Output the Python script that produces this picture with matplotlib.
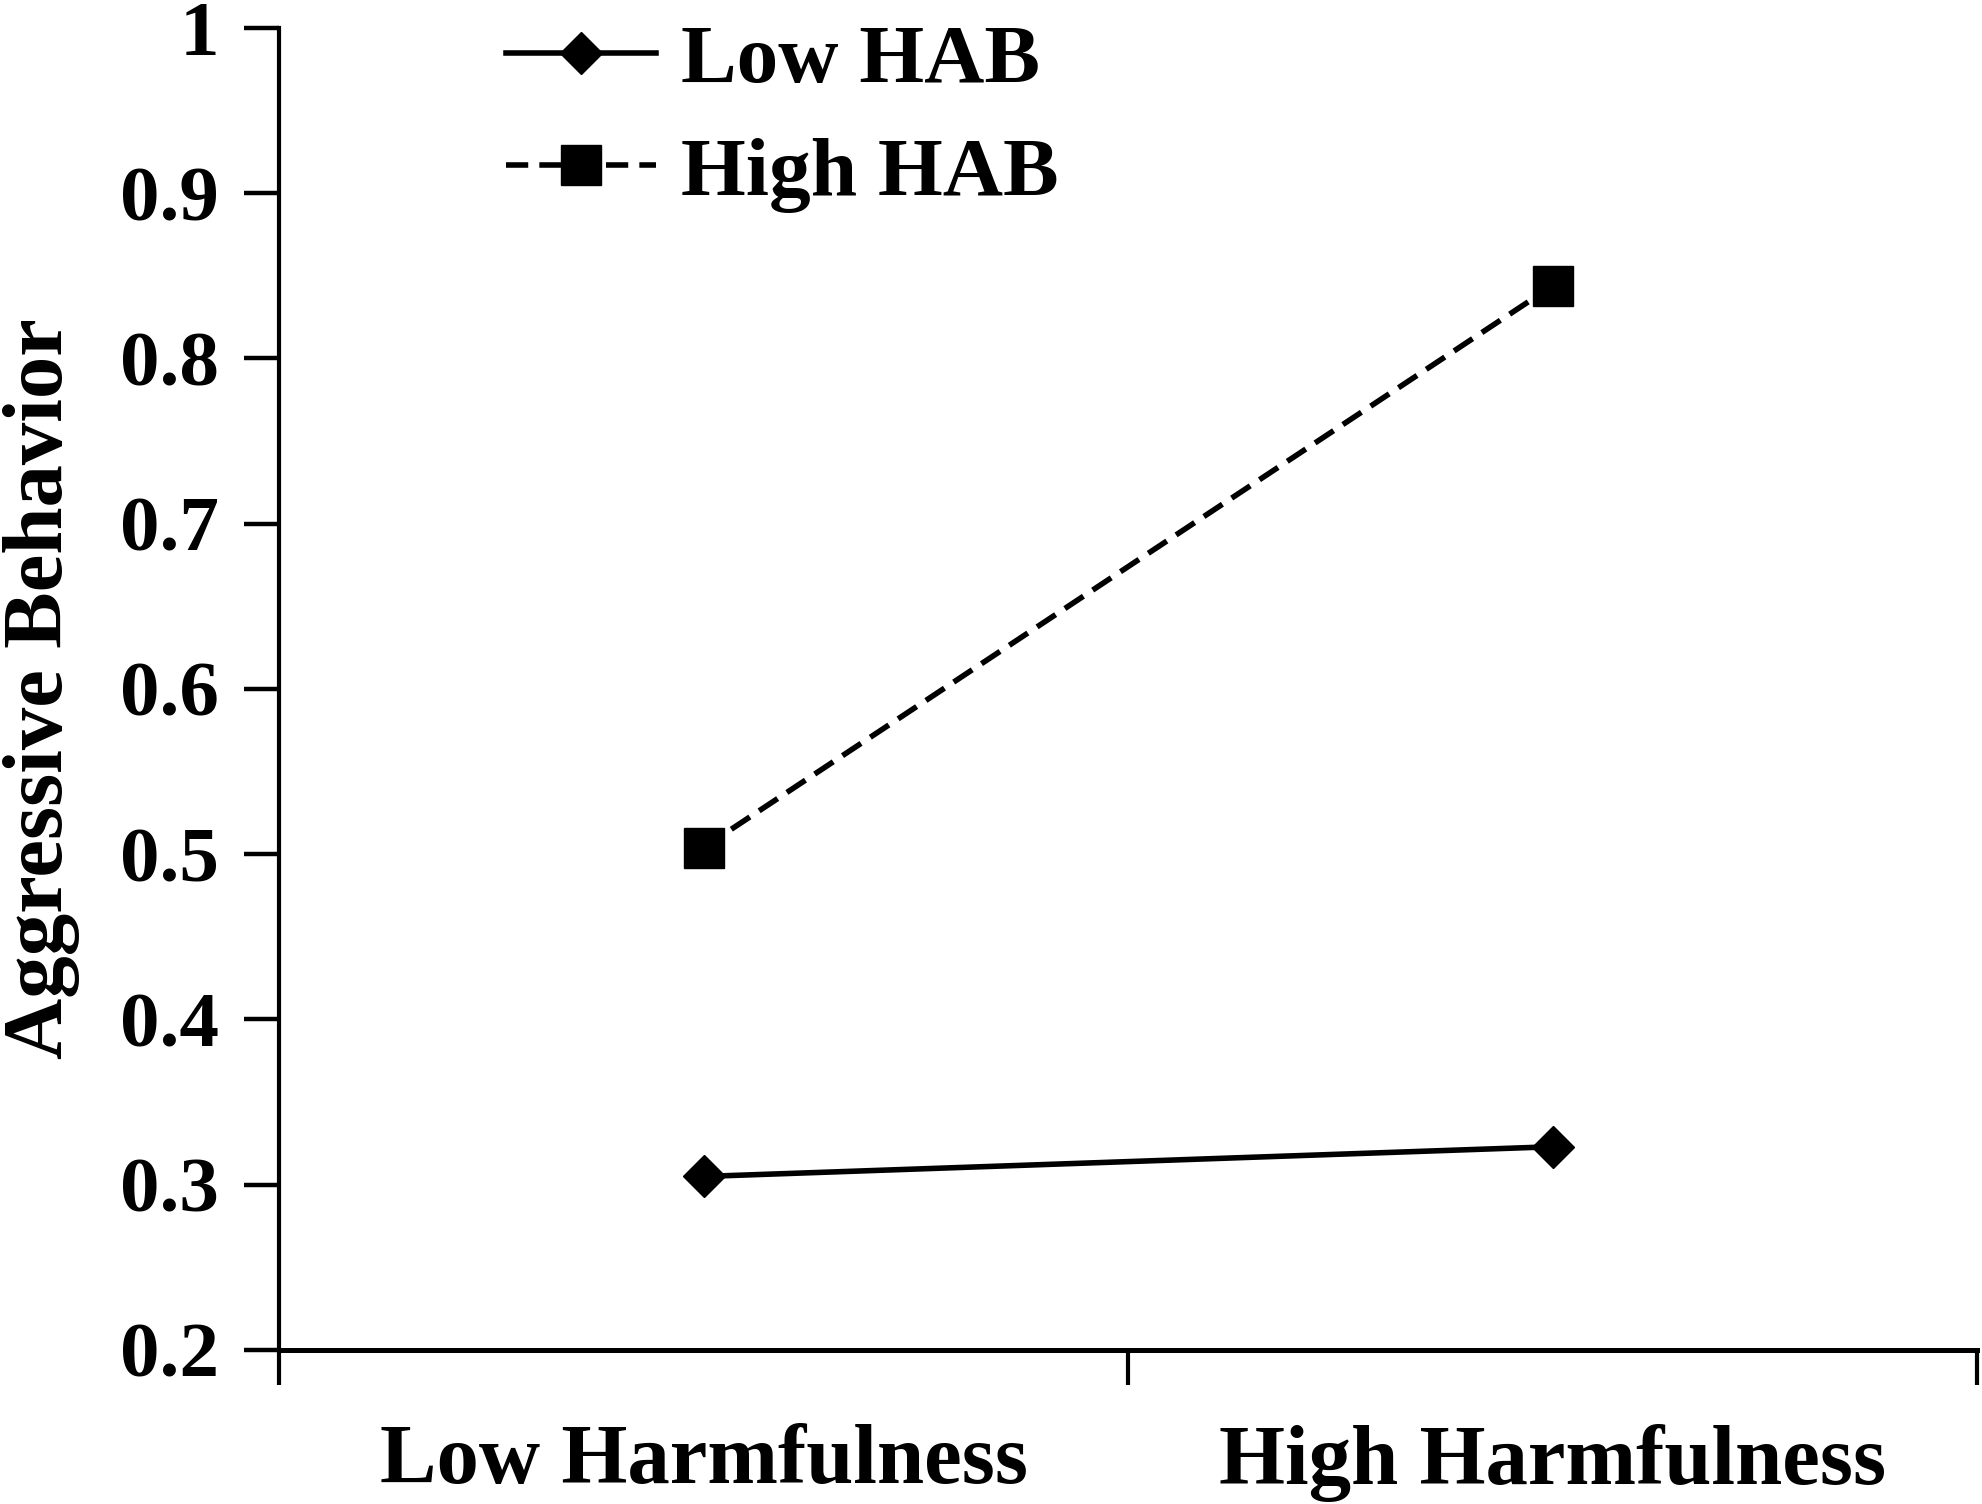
import matplotlib
matplotlib.use("Agg")
import matplotlib.pyplot as plt
from matplotlib.ticker import FixedLocator, NullFormatter, FixedFormatter

# ======================
# データ
# ======================
groups = ["Low Harmfulness", "High Harmfulness"]
low_hab = [0.305, 0.323]
high_hab = [0.504, 0.844]
series_names = ["Low HAB", "High HAB"]
y_ticks = [0.2, 0.3, 0.4, 0.5, 0.6, 0.7, 0.8, 0.9, 1.0]
y_tick_labels = ["0.2", "0.3", "0.4", "0.5", "0.6", "0.7", "0.8", "0.9", "1"]

plt.rcParams["font.family"] = ["Liberation Serif", "DejaVu Serif"]
plt.rcParams["font.weight"] = "bold"

# ======================
# 図
# ======================
fig = plt.figure(figsize=(19.83, 15.04), dpi=100)
ax = fig.add_axes([0.1407, 0.1024, 0.8563, 0.879])

x_pos = [0.5, 1.5]
ax.plot(x_pos, low_hab, color="black", linestyle="-", linewidth=4,
        marker="D", markersize=21, label=series_names[0])
ax.plot(x_pos, high_hab, color="black", linestyle=(0, (4, 2)), linewidth=4,
        marker="s", markersize=29, label=series_names[1])

ax.set_xlim(0, 2)
ax.set_ylim(0.2, 1.0)

for side in ["top", "right"]:
    ax.spines[side].set_visible(False)
ax.spines["left"].set_linewidth(3)
ax.spines["bottom"].set_linewidth(3.6)

# x軸: 目盛りは 0,1,2、ラベルは間に
ax.xaxis.set_major_locator(FixedLocator([0, 1, 2]))
ax.xaxis.set_major_formatter(NullFormatter())
ax.xaxis.set_minor_locator(FixedLocator(x_pos))
ax.xaxis.set_minor_formatter(FixedFormatter(groups))
ax.tick_params(axis="x", which="major", direction="out", length=25, width=3)
ax.tick_params(axis="x", which="minor", length=0, pad=53, labelsize=61)

ax.set_yticks(y_ticks)
ax.set_yticklabels(y_tick_labels)
ax.tick_params(axis="y", direction="out", length=25, width=3.2, pad=18, labelsize=57)

ax.set_ylabel("Aggressive Behavior", fontsize=61, fontweight="bold")
ax.yaxis.set_label_coords(-0.117, 0.5)

leg = ax.legend(loc="upper left", bbox_to_anchor=(0.1337, 1.003), frameon=False,
                fontsize=60, handlelength=1.8, handletextpad=0.3,
                labelspacing=0.43, borderpad=0, borderaxespad=0, numpoints=1)

fig.savefig("out.png", dpi=100)
